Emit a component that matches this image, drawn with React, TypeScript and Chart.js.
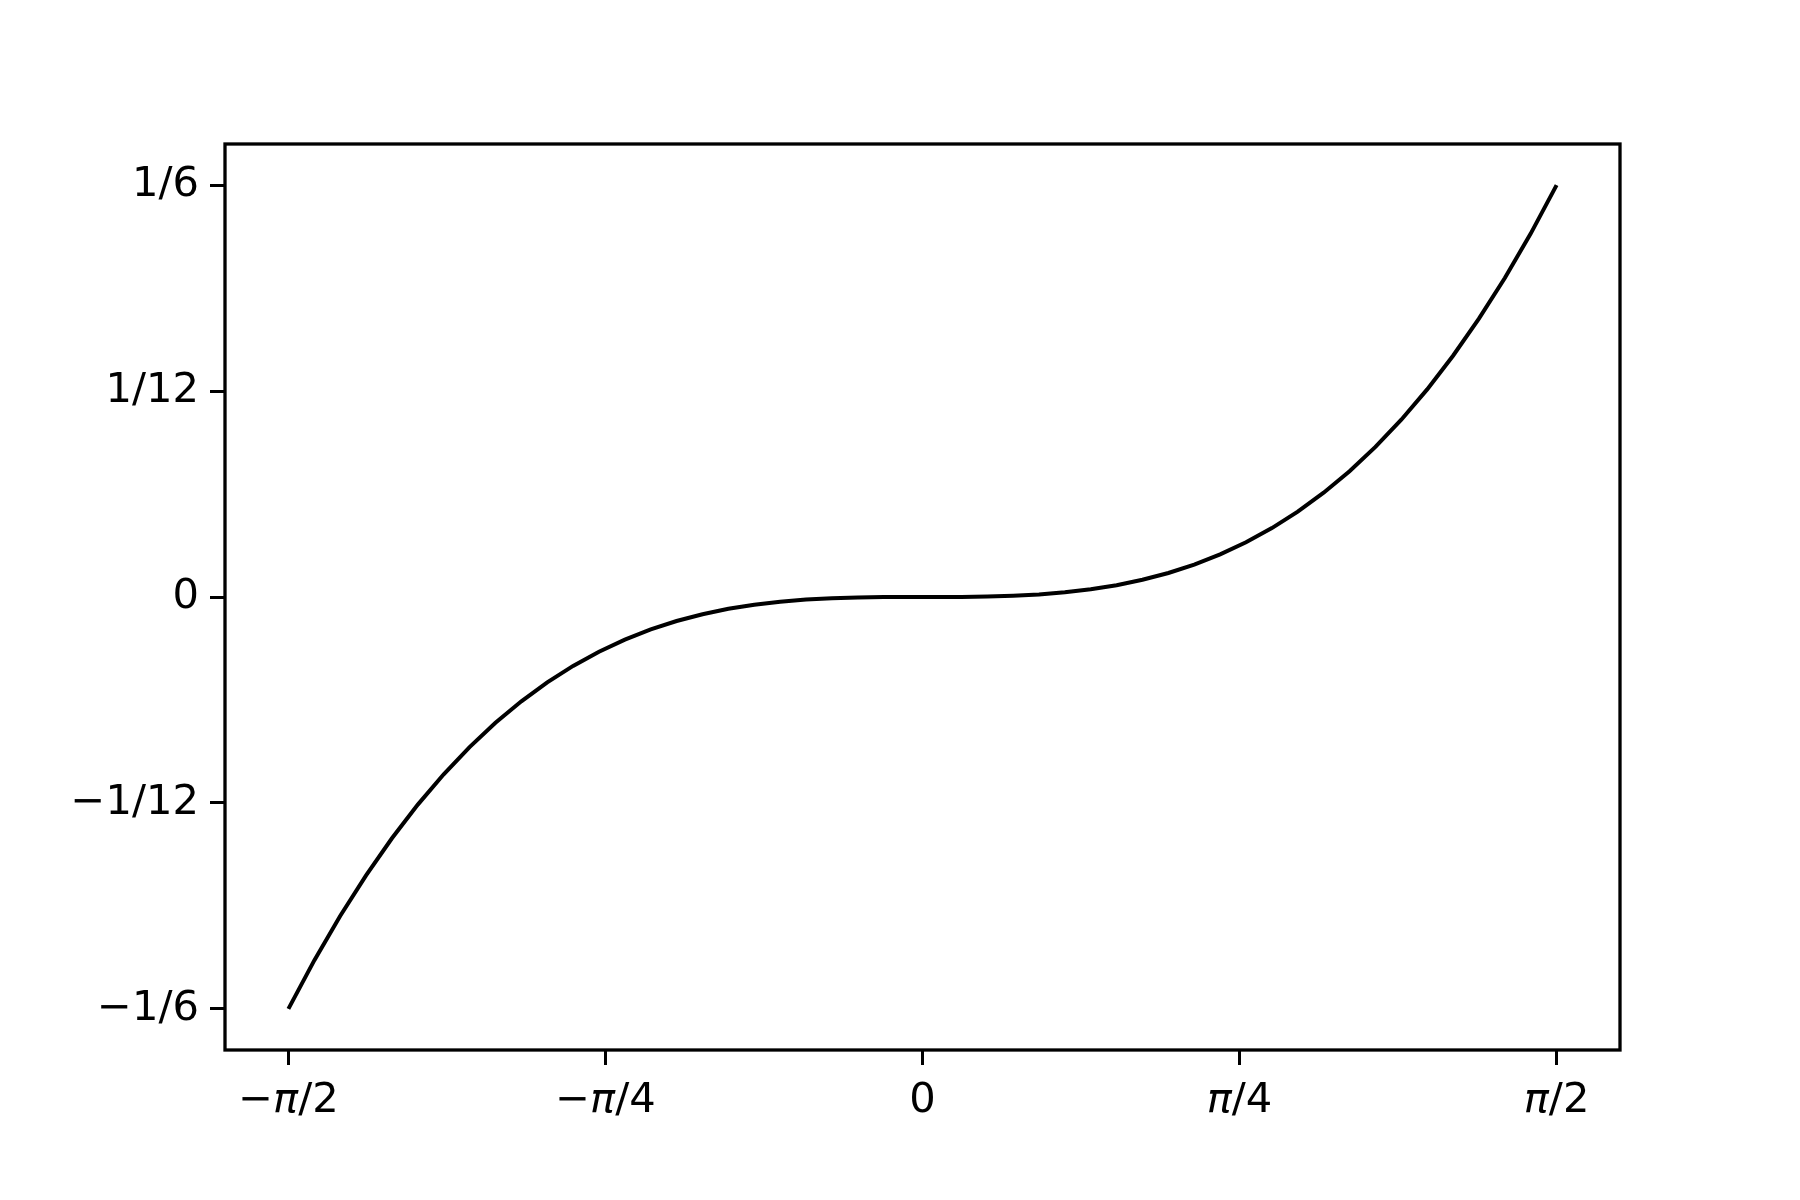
import React, { useEffect, useRef } from "react";
import { Chart, registerables } from "chart.js";

Chart.register(...registerables);

const xValues = [
  -1.5708, -1.5067, -1.4426, -1.3784, -1.3143, -1.2502, -1.1861, -1.122, -1.0579, -0.9937,
  -0.9296, -0.8655, -0.8014, -0.7373, -0.6732, -0.6091, -0.5449, -0.4808, -0.4167, -0.3526,
  -0.2885, -0.2244, -0.1603, -0.0962, -0.0321, 0.0321, 0.0962, 0.1603, 0.2244, 0.2885,
  0.3526, 0.4167, 0.4808, 0.5449, 0.6091, 0.6732, 0.7373, 0.8014, 0.8655, 0.9296,
  0.9937, 1.0579, 1.122, 1.1861, 1.2502, 1.3143, 1.3784, 1.4426, 1.5067, 1.5708,
];

const yValues = [
  -0.16667, -0.14708, -0.12909, -0.11263, -0.09764, -0.08403, -0.07176, -0.06074, -0.05091, -0.0422,
  -0.03455, -0.02788, -0.02214, -0.01724, -0.01312, -0.00972, -0.00696, -0.00478, -0.00311, -0.00189,
  -0.00103, -0.00049, -0.00018, -0.00004, -0.0000014, 0.0000014, 0.00004, 0.00018, 0.00049, 0.00103,
  0.00189, 0.00311, 0.00478, 0.00696, 0.00972, 0.01312, 0.01724, 0.02214, 0.02788, 0.03455,
  0.0422, 0.05091, 0.06074, 0.07176, 0.08403, 0.09764, 0.11263, 0.12909, 0.14708, 0.16667,
];

const xTickValues = [-Math.PI / 2, -Math.PI / 4, 0, Math.PI / 4, Math.PI / 2];
// each x tick label split into [upright prefix, italic symbol, upright suffix]
const xTickLabels: string[][] = [
  ["\u2212", "\u03c0", "/2"],
  ["\u2212", "\u03c0", "/4"],
  ["0", "", ""],
  ["", "\u03c0", "/4"],
  ["", "\u03c0", "/2"],
];
const yTickValues = [-1 / 6, -1 / 12, 0, 1 / 12, 1 / 6];
const yTickLabels = ["\u22121/6", "\u22121/12", "0", "1/12", "1/6"];

const FONT_FAMILY = "'DejaVu Sans', sans-serif";
const FONT_SIZE = 41.67;

export default function App() {
  const canvasRef = useRef<HTMLCanvasElement | null>(null);

  useEffect(() => {
    const canvas = canvasRef.current;
    if (!canvas) return;

    const framePlugin = {
      id: "frameAndLabels",
      afterDraw(chart: any) {
        const { ctx, chartArea } = chart;
        ctx.save();
        ctx.strokeStyle = "#000";
        ctx.lineWidth = 3.3;
        ctx.strokeRect(
          chartArea.left,
          chartArea.top,
          chartArea.right - chartArea.left,
          chartArea.bottom - chartArea.top
        );
        // x tick labels with italic pi
        const xs = chart.scales.x;
        const baseline = chartArea.bottom + 62;
        ctx.fillStyle = "#000";
        ctx.textBaseline = "alphabetic";
        ctx.textAlign = "left";
        const upright = `${FONT_SIZE}px ${FONT_FAMILY}`;
        const italic = `oblique ${FONT_SIZE}px ${FONT_FAMILY}`;
        xTickValues.forEach((v, i) => {
          const [a, b, c] = xTickLabels[i];
          ctx.font = upright;
          const wa = ctx.measureText(a).width;
          const wc = ctx.measureText(c).width;
          ctx.font = italic;
          const wb = ctx.measureText(b).width;
          const total = wa + wb + wc;
          let px = xs.getPixelForValue(v) - total / 2;
          ctx.font = upright;
          ctx.fillText(a, px, baseline);
          px += wa;
          ctx.font = italic;
          ctx.fillText(b, px, baseline);
          px += wb;
          ctx.font = upright;
          ctx.fillText(c, px, baseline);
        });
        ctx.restore();
      },
    };

    const chart = new Chart(canvas, {
      type: "line",
      data: {
        datasets: [
          {
            data: xValues.map((x, i) => ({ x, y: yValues[i] })),
            borderColor: "#000",
            borderWidth: 4,
            pointRadius: 0,
            tension: 0,
            fill: false,
          },
        ],
      },
      options: {
        responsive: false,
        animation: false,
        maintainAspectRatio: false,
        layout: { padding: { top: 144, right: 180, left: 0, bottom: 0 } },
        plugins: {
          legend: { display: false },
          tooltip: { enabled: false },
        },
        scales: {
          x: {
            type: "linear",
            min: -0.55 * Math.PI,
            max: 0.55 * Math.PI,
            afterBuildTicks: (scale: any) => {
              scale.ticks = xTickValues.map((value) => ({ value }));
            },
            afterFit: (scale: any) => {
              scale.height = 150;
            },
            ticks: { display: false },
            grid: {
              drawOnChartArea: false,
              drawTicks: true,
              tickLength: 15,
              color: "#000",
              lineWidth: 3,
            },
            border: { display: false },
          },
          y: {
            type: "linear",
            min: -0.18333,
            max: 0.18333,
            afterBuildTicks: (scale: any) => {
              scale.ticks = yTickValues.map((value) => ({ value }));
            },
            afterFit: (scale: any) => {
              scale.width = 225;
            },
            ticks: {
              color: "#000",
              padding: 11,
              font: { family: FONT_FAMILY, size: FONT_SIZE },
              callback: (_v: any, index: number) => yTickLabels[index],
            },
            grid: {
              drawOnChartArea: false,
              drawTicks: true,
              tickLength: 15,
              color: "#000",
              lineWidth: 3,
            },
            border: { display: false },
          },
        },
      },
      plugins: [framePlugin],
    } as any);

    return () => {
      chart.destroy();
    };
  }, []);

  return (
    <div
      style={{
        position: "absolute",
        left: 0,
        top: 0,
        width: 1800,
        height: 1200,
        background: "#fff",
      }}
    >
      <canvas ref={canvasRef} width={1800} height={1200} />
    </div>
  );
}
